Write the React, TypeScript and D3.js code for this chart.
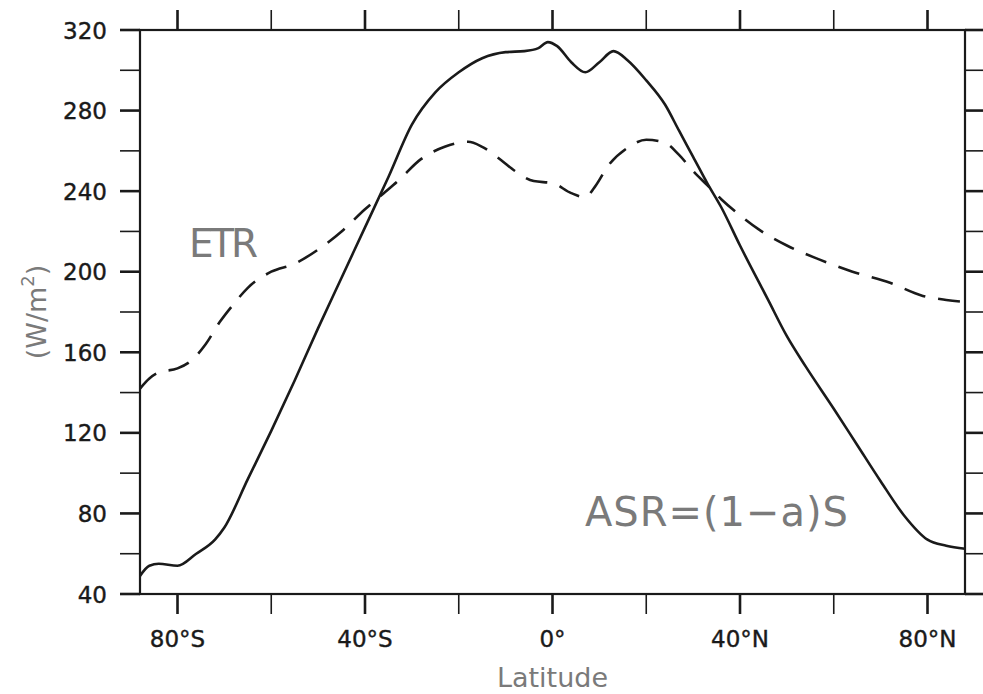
import { useEffect, useRef } from 'react';
import * as d3 from 'd3';

// absorbed shortwave radiation (solid line)
const asrLat = [-88, -86, -84, -80, -76, -72, -70, -65, -60, -55, -50, -45, -40, -35, -30, -25, -20, -15, -10, -6, -3, -1, 1, 4, 7, 10, 13, 16, 20, 24, 27, 30, 33, 36, 40, 46, 50, 54, 60, 65, 70, 75, 80, 84, 88];
const asrVal = [49, 54, 55, 54, 60, 67, 73, 97, 121, 146, 172, 197, 222, 247, 273, 289, 299, 306, 309, 309.5, 311, 314, 312, 304, 299, 304, 309.5, 305, 295, 283, 270, 257, 244, 232, 213, 186, 168, 153, 132, 114, 96, 79, 67, 64, 62.5];

// emitted terrestrial radiation (dashed line)
const etrLat = [-88, -86, -84, -80, -77, -74, -71, -68, -65, -60, -55, -50, -45, -40, -36, -33, -28, -23, -18, -15, -11, -8, -4, 0, 4, 7, 9, 12, 16, 20, 24, 27, 30, 33, 36, 40, 44, 50, 57, 64, 72, 79, 84, 88];
const etrVal = [142, 147, 150, 152, 156, 164, 175, 184, 192, 200, 204, 211, 220, 231, 239, 245, 256, 262, 264.5, 262, 255.5, 250, 245, 244, 239, 237, 242, 253, 261.5, 265.5, 264, 258, 250, 243, 236, 228, 221, 213, 206, 200, 194.5, 188, 186, 185];

const xTicks = [-80, -60, -40, -20, 0, 20, 40, 60, 80];
const xLabels = ['80°S', '40°S', '0°', '40°N', '80°N'];
const yTicks = [40, 60, 80, 100, 120, 140, 160, 180, 200, 220, 240, 260, 280, 300, 320];
const yLabels = [40, 80, 120, 160, 200, 240, 280, 320];

const App = () => {
  const chart = useRef(null);

  useEffect(() => {
    const width = 983;
    const height = 694;
    const left = 140, right = 965, top = 30, bottom = 594;

    const svg = d3.select(chart.current)
      .attr('width', width)
      .attr('height', height)
      .style('background-color', '#fff');
    svg.selectAll('*').remove();

    const x = d3.scaleLinear().domain([-88, 88]).range([left, right]);
    const y = d3.scaleLinear().domain([40, 320]).range([bottom, top]);

    const ink = '#1a1a1a';
    const gray = '#7a7a7a';
    const tickLen = 20;

    const line = d3.line()
      .x((d) => x(d[0]))
      .y((d) => y(d[1]))
      .curve(d3.curveMonotoneX);

    const asr = asrLat.map((l, i) => [l, asrVal[i]]);
    const etr = etrLat.map((l, i) => [l, etrVal[i]]);

    svg.append('path')
      .attr('d', line(etr))
      .attr('fill', 'none')
      .attr('stroke', ink)
      .attr('stroke-width', 2.6)
      .attr('stroke-dasharray', '22,13');

    svg.append('path')
      .attr('d', line(asr))
      .attr('fill', 'none')
      .attr('stroke', ink)
      .attr('stroke-width', 2.6);

    // ticks, outward on all four sides
    const isMajorX = (d) => d % 40 === 0;
    const isMajorY = (d) => d % 40 === 0;

    svg.selectAll('.xtick-b')
      .data(xTicks)
      .join('line')
      .attr('x1', (d) => x(d)).attr('x2', (d) => x(d))
      .attr('y1', bottom).attr('y2', bottom + tickLen)
      .attr('stroke', ink)
      .attr('stroke-width', (d) => isMajorX(d) ? 2.6 : 1.6);

    svg.selectAll('.xtick-t')
      .data(xTicks)
      .join('line')
      .attr('x1', (d) => x(d)).attr('x2', (d) => x(d))
      .attr('y1', top).attr('y2', top - tickLen)
      .attr('stroke', ink)
      .attr('stroke-width', (d) => isMajorX(d) ? 2.6 : 1.6);

    svg.selectAll('.ytick-l')
      .data(yTicks)
      .join('line')
      .attr('x1', left).attr('x2', left - tickLen)
      .attr('y1', (d) => y(d)).attr('y2', (d) => y(d))
      .attr('stroke', ink)
      .attr('stroke-width', (d) => isMajorY(d) ? 2.6 : 1.6);

    svg.selectAll('.ytick-r')
      .data(yTicks)
      .join('line')
      .attr('x1', right).attr('x2', right + tickLen)
      .attr('y1', (d) => y(d)).attr('y2', (d) => y(d))
      .attr('stroke', ink)
      .attr('stroke-width', (d) => isMajorY(d) ? 2.6 : 1.6);

    // frame
    svg.append('rect')
      .attr('x', left).attr('y', top)
      .attr('width', right - left).attr('height', bottom - top)
      .attr('fill', 'none')
      .attr('stroke', ink)
      .attr('stroke-width', 2.2);

    const font = "'DejaVu Sans', sans-serif";

    svg.selectAll('.ylabel')
      .data(yLabels)
      .join('text')
      .text((d) => d)
      .attr('x', 107)
      .attr('y', (d) => y(d) + 8.5)
      .attr('text-anchor', 'end')
      .attr('font-family', font)
      .attr('font-size', 23)
      .attr('fill', ink)
      .attr('stroke', ink)
      .attr('stroke-width', 0.4);

    svg.selectAll('.xlabel')
      .data(xLabels)
      .join('text')
      .text((d) => d)
      .attr('x', (d, i) => x(xTicks[i * 2]))
      .attr('y', 647)
      .attr('text-anchor', 'middle')
      .attr('font-family', font)
      .attr('font-size', 23)
      .attr('fill', ink)
      .attr('stroke', ink)
      .attr('stroke-width', 0.4);

    svg.append('text')
      .text('Latitude')
      .attr('x', x(0))
      .attr('y', 687)
      .attr('text-anchor', 'middle')
      .attr('font-family', font)
      .attr('font-size', 27)
      .attr('fill', gray);

    const yTitle = svg.append('text')
      .attr('transform', `translate(46,${(top + bottom) / 2}) rotate(-90)`)
      .attr('text-anchor', 'middle')
      .attr('font-family', font)
      .attr('font-size', 27)
      .attr('fill', gray);
    yTitle.append('tspan').text('(W/m');
    yTitle.append('tspan').text('2').attr('font-size', 18).attr('dy', -12);
    yTitle.append('tspan').text(')').attr('dy', 12);

    svg.append('text')
      .text('ETR')
      .attr('x', 189)
      .attr('y', 257)
      .attr('font-family', font)
      .attr('font-size', 39)
      .attr('textLength', 69)
      .attr('fill', gray);

    svg.append('text')
      .text('ASR=(1−a)S')
      .attr('x', 585)
      .attr('y', 526)
      .attr('font-family', font)
      .attr('font-size', 40)
      .attr('textLength', 263)
      .attr('fill', gray);
  }, []);

  return (
    <div style={{ position: 'absolute', left: 0, top: 0 }}>
      <svg ref={chart} style={{ display: 'block' }}></svg>
    </div>
  );
};

export default App;
